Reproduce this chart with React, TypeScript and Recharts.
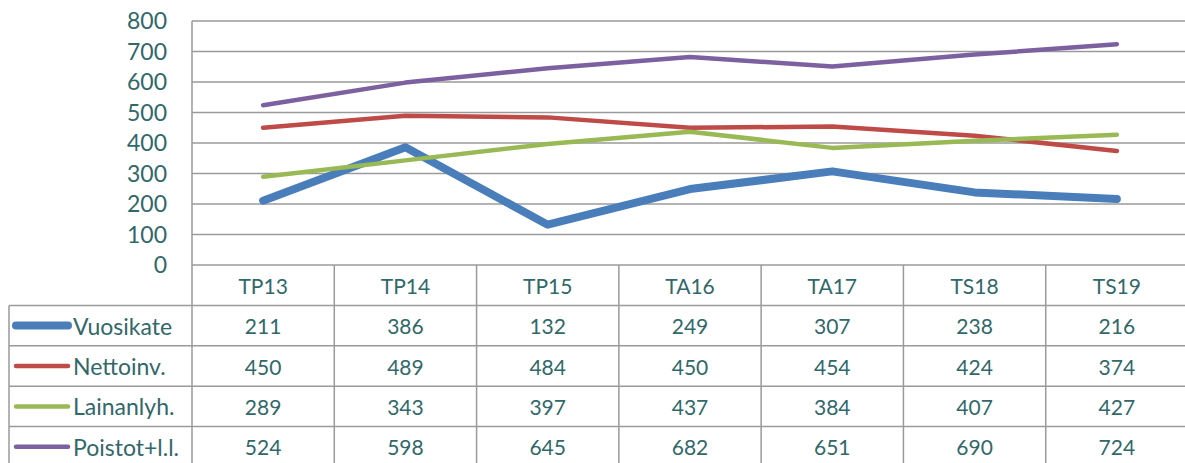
import React from 'react';
import { LineChart, Line, XAxis, YAxis, CartesianGrid } from 'recharts';

const categories = ['TP13', 'TP14', 'TP15', 'TA16', 'TA17', 'TS18', 'TS19'];
const vuosikate = [211, 386, 132, 249, 307, 238, 216];
const nettoinv = [450, 489, 484, 450, 454, 424, 374];
const lainanlyh = [289, 343, 397, 437, 384, 407, 427];
const poistot = [524, 598, 645, 682, 651, 690, 724];
const yTicks = [0, 100, 200, 300, 400, 500, 600, 700, 800];

const series = [
  { key: 'vuosikate', name: 'Vuosikate', values: vuosikate, color: '#4a7ebb', width: 8 },
  { key: 'nettoinv', name: 'Nettoinv.', values: nettoinv, color: '#be4b48', width: 4.5 },
  { key: 'lainanlyh', name: 'Lainanlyh.', values: lainanlyh, color: '#98b954', width: 4.5 },
  { key: 'poistot', name: 'Poistot+l.l.', values: poistot, color: '#7d60a0', width: 4.5 },
];

const data = categories.map((c, i) => {
  const row: any = { cat: c };
  series.forEach((s) => (row[s.key] = s.values[i]));
  return row;
});

const CHART_W = 1188;
const CHART_H = 463;
const Y_W = 192;
const TOP = 21;
const BOTTOM = 198;
const COL_W = (CHART_W - Y_W) / categories.length;
const ROW_H = 40.4;
const TABLE_LEFT = 9;
const GRID = '#9a9a9a';
const TEXT = '#31686a';
const FONT = 'Lato, "Open Sans", sans-serif';

const TableTick = (props: any) => {
  const { x, y, payload, index } = props;
  const half = COL_W / 2;
  const left = x - half;
  const right = x + half;
  const rows = series.length + 1;
  const bottom = y + ROW_H * rows;
  const els: any[] = [];
  els.push(
    <text key="h" x={x} y={y + ROW_H / 2} textAnchor="middle" dominantBaseline="central"
      fill={TEXT} fontSize={21} fontFamily={FONT}>{payload.value}</text>
  );
  series.forEach((s, r) => {
    const cy = y + ROW_H * (r + 1) + ROW_H / 2;
    els.push(
      <text key={'v' + r} x={x} y={cy} textAnchor="middle" dominantBaseline="central"
        fill={TEXT} fontSize={21} fontFamily={FONT}>{s.values[index]}</text>
    );
  });
  for (let r = 1; r <= rows; r++) {
    const ly = y + ROW_H * r;
    els.push(<line key={'hl' + r} x1={left} x2={right} y1={ly} y2={ly} stroke={GRID} strokeWidth={1.5} />);
  }
  els.push(<line key="vr" x1={right} x2={right} y1={y} y2={bottom} stroke={GRID} strokeWidth={1.5} />);
  if (index === 0) {
    els.push(<line key="vl" x1={left} x2={left} y1={y} y2={bottom} stroke={GRID} strokeWidth={1.5} />);
    els.push(<line key="tl" x1={TABLE_LEFT} x2={TABLE_LEFT} y1={y + ROW_H} y2={bottom} stroke={GRID} strokeWidth={1.5} />);
    for (let r = 1; r <= rows; r++) {
      const ly = y + ROW_H * r;
      els.push(<line key={'lhl' + r} x1={TABLE_LEFT} x2={left} y1={ly} y2={ly} stroke={GRID} strokeWidth={1.5} />);
    }
    series.forEach((s, r) => {
      const cy = y + ROW_H * (r + 1) + ROW_H / 2;
      els.push(
        <line key={'lg' + r} x1={TABLE_LEFT + 7} x2={TABLE_LEFT + 59} y1={cy} y2={cy}
          stroke={s.color} strokeWidth={s.width} strokeLinecap="round" />
      );
      els.push(
        <text key={'lt' + r} x={TABLE_LEFT + 64} y={cy} dominantBaseline="central"
          fill={TEXT} fontSize={23} fontFamily={FONT}>{s.name}</text>
      );
    });
  }
  return <g>{els}</g>;
};

export default function App() {
  return (
    <div style={{ width: 1185, height: 463, overflow: 'hidden', background: '#fff' }}>
      <style>{'body{margin:0;}'}</style>
      <LineChart width={CHART_W} height={CHART_H} data={data}
        margin={{ top: TOP, right: 0, left: 0, bottom: 0 }}>
        <CartesianGrid vertical={false} stroke={GRID} strokeWidth={1.5} />
        <XAxis dataKey="cat" height={BOTTOM} axisLine={false} tickLine={false} tickSize={0}
          tickMargin={0} interval={0} padding={{ left: COL_W / 2, right: COL_W / 2 }}
          tick={<TableTick />} />
        <YAxis width={Y_W} domain={[0, 800]} ticks={yTicks} interval={0} tickLine={false}
          axisLine={{ stroke: GRID, strokeWidth: 1.5 }} tickMargin={19}
          tick={{ fill: TEXT, fontSize: 23, fontFamily: FONT }} />
        {series.map((s) => (
          <Line key={s.key} dataKey={s.key} name={s.name} stroke={s.color} strokeWidth={s.width}
            dot={false} activeDot={false} isAnimationActive={false} type="linear"
            strokeLinecap="round" strokeLinejoin="round" />
        ))}
      </LineChart>
    </div>
  );
}
